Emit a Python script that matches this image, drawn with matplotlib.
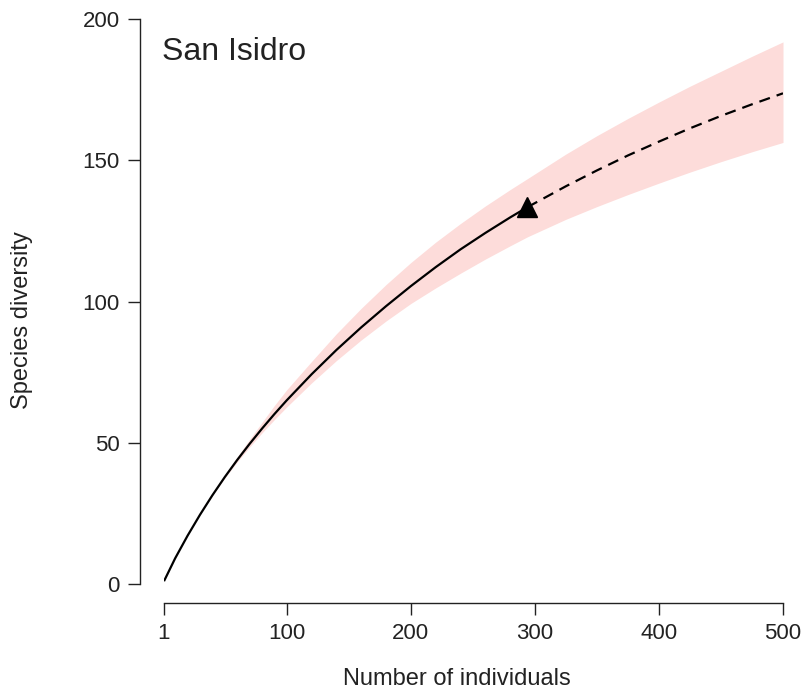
import matplotlib
matplotlib.use("Agg")
import matplotlib.pyplot as plt

plt.rcParams['font.family'] = ['Liberation Sans', 'DejaVu Sans']

# Rarefied (observed) part of the curve
obs_n = [1, 10, 20, 30, 40, 50, 60, 70, 80, 90, 100, 120, 140, 160, 180, 200, 220, 240, 260, 280, 294]
obs_div = [1, 9.1, 17.1, 24.5, 31.4, 37.85, 43.9, 49.6, 55.0, 60.15, 65.05, 74.25, 82.85,
           90.85, 98.35, 105.45, 112.15, 118.45, 124.25, 129.75, 133.4]
obs_lower = [1, 9.1, 17.1, 24.5, 31.3, 37.5, 43.2, 48.5, 53.5, 58.2, 62.7, 71.2, 79.1,
             86.4, 93.1, 99.3, 104.8, 110.0, 115.0, 119.7, 122.9]
obs_upper = [1, 9.1, 17.1, 24.5, 31.6, 38.5, 45.0, 51.2, 57.2, 63.2, 68.8, 78.8, 88.6,
             97.6, 106.0, 113.8, 121.0, 127.6, 133.8, 139.6, 143.5]

# Extrapolated part of the curve
ext_n = [294, 325, 350, 375, 400, 425, 450, 475, 500]
ext_div = [133.4, 140.8, 146.4, 151.7, 156.6, 161.3, 165.7, 169.8, 173.7]
ext_lower = [122.9, 129.1, 133.6, 137.85, 141.9, 145.8, 149.5, 153.0, 156.3]
ext_upper = [143.5, 152.2, 158.7, 164.8, 170.6, 176.2, 181.5, 186.8, 191.9]

# Reference sample size / diversity
ref_n = 294
ref_div = 133.4

site = "San Isidro"
x_ticks = [1, 100, 200, 300, 400, 500]
y_ticks = [0, 50, 100, 150, 200]

W, H = 804, 692
fig = plt.figure(figsize=(W / 100, H / 100), dpi=100)
ax = fig.add_axes([164 / W, 1 - 584 / H, (783 - 164) / W, (584 - 19) / H])

band_n = obs_n + ext_n[1:]
band_lo = obs_lower + ext_lower[1:]
band_hi = obs_upper + ext_upper[1:]
ax.fill_between(band_n, band_lo, band_hi, color="#fddcda", linewidth=0, zorder=1)

ax.plot(obs_n, obs_div, color="black", lw=1.6, solid_capstyle="butt",
        solid_joinstyle="round", zorder=3)
ax.plot(ext_n, ext_div, color="black", lw=1.6, dashes=(5, 3.2), zorder=3)
ax.plot([ref_n], [ref_div], marker="^", color="black", markersize=14, zorder=4)

ax.set_xlim(1, 500)
ax.set_ylim(0, 200)
ax.set_xticks(x_ticks)
ax.set_yticks(y_ticks)
ax.set_xticklabels([str(t) for t in x_ticks])
ax.set_yticklabels([str(t) for t in y_ticks])

for side in ("top", "right"):
    ax.spines[side].set_visible(False)
ax.spines["left"].set_position(("outward", 17.5))
ax.spines["bottom"].set_position(("outward", 13.7))
ax.spines["left"].set_bounds(0, 200)
ax.spines["bottom"].set_bounds(1, 500)
for side in ("left", "bottom"):
    ax.spines[side].set_linewidth(1.0)
    ax.spines[side].set_color("#222222")

ax.tick_params(axis="both", direction="out", length=8.5, width=1.0, color="#222222",
               labelsize=16, labelcolor="#222222")
ax.tick_params(axis="x", pad=6)
ax.tick_params(axis="y", pad=6)
ax.patch.set_visible(False)

ax.text(-0.003, 0.928, site, transform=ax.transAxes, fontsize=23, color="#222222",
        ha="left", va="baseline")

fig.text(457 / W, 1 - 679 / H, "Number of individuals", ha="center", va="center",
         fontsize=17, color="#222222")
fig.text(22 / W, 1 - 320 / H, "Species diversity", ha="center", va="center",
         rotation=90, fontsize=17, color="#222222")

fig.savefig("out.png", dpi=100, facecolor="white")
